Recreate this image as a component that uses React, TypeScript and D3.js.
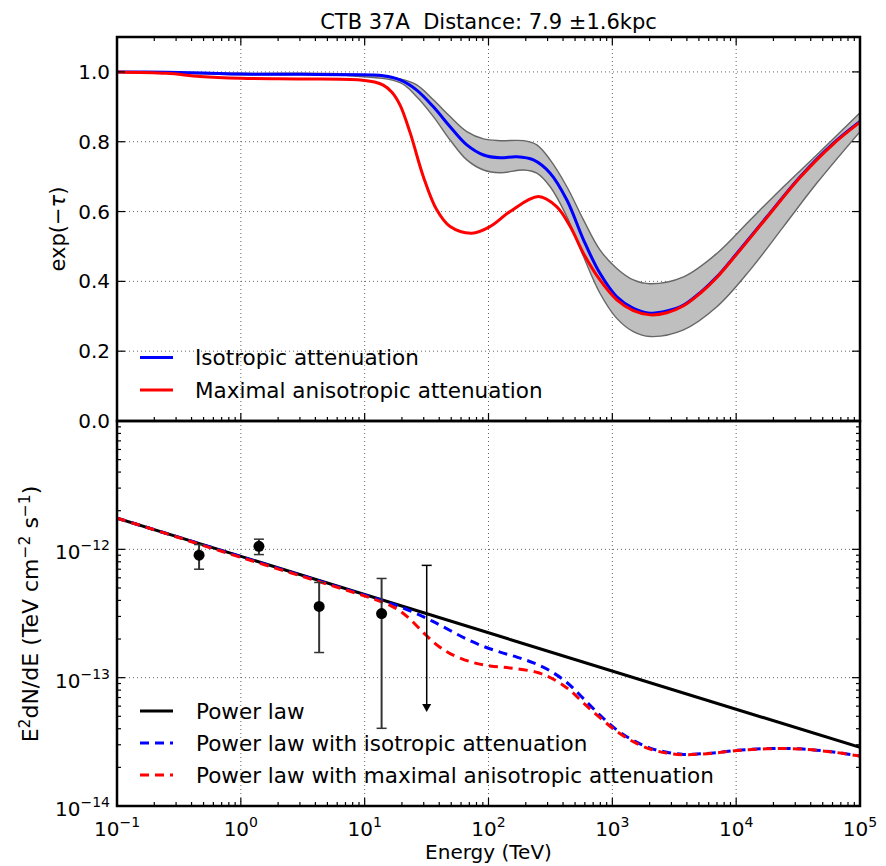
import React from "react";
import * as d3 from "d3";

const WIDTH = 886;
const HEIGHT = 866;
const TITLE = "CTB 37A  Distance: 7.9 \u00b11.6kpc";

// Isotropic attenuation exp(-tau) (blue)
const ISO_LOG_E = [-1.0, -0.6, -0.3, 0.0, 0.5, 0.88, 1.15, 1.286, 1.42, 1.555, 1.69, 1.825, 1.96, 2.094, 2.229, 2.363, 2.498, 2.633, 2.767, 2.9, 3.036, 3.17, 3.305, 3.44, 3.575, 3.71, 3.844, 4.005, 4.248, 4.517, 4.786, 5.0];
const ISO_ATT = [1.0, 0.999, 0.997, 0.994, 0.993, 0.992, 0.989, 0.977, 0.948, 0.9, 0.843, 0.791, 0.762, 0.754, 0.757, 0.748, 0.71, 0.633, 0.519, 0.423, 0.356, 0.323, 0.309, 0.315, 0.332, 0.368, 0.413, 0.48, 0.585, 0.7, 0.796, 0.858];

// Maximal anisotropic attenuation (red)
const ANI_LOG_E = [-1.0, -0.6, -0.33, 0.0, 0.5, 0.963, 1.08, 1.15, 1.22, 1.286, 1.367, 1.474, 1.582, 1.69, 1.865, 2.013, 2.174, 2.403, 2.55, 2.66, 2.767, 2.9, 3.036, 3.17, 3.305, 3.44, 3.575, 3.71, 3.844, 4.005, 4.248, 4.517, 4.786, 5.0];
const ANI_ATT = [1.0, 0.996, 0.987, 0.982, 0.98, 0.977, 0.971, 0.962, 0.942, 0.905, 0.826, 0.7, 0.605, 0.557, 0.538, 0.557, 0.6, 0.643, 0.614, 0.557, 0.48, 0.404, 0.347, 0.316, 0.304, 0.31, 0.33, 0.366, 0.411, 0.478, 0.583, 0.698, 0.794, 0.856];

// Uncertainty band (distance error)
const BAND_LOG_E = [-1.0, 0.0, 0.88, 1.286, 1.42, 1.555, 1.69, 1.825, 1.96, 2.094, 2.283, 2.39, 2.498, 2.633, 2.767, 2.9, 3.036, 3.17, 3.305, 3.575, 3.844, 4.113, 4.382, 4.65, 5.0];
const BAND_UPPER = [1.0, 0.996, 0.994, 0.98, 0.963, 0.92, 0.872, 0.829, 0.808, 0.803, 0.803, 0.791, 0.748, 0.671, 0.576, 0.49, 0.437, 0.404, 0.393, 0.413, 0.48, 0.576, 0.671, 0.762, 0.883];
const BAND_LOWER = [1.0, 0.992, 0.989, 0.969, 0.929, 0.872, 0.805, 0.748, 0.719, 0.711, 0.719, 0.71, 0.671, 0.585, 0.471, 0.366, 0.294, 0.256, 0.242, 0.261, 0.327, 0.433, 0.557, 0.681, 0.829];

// Power law endpoints (E^2 dN/dE)
const POWER_LAW_E = [0.1, 1e5];
const POWER_LAW_FLUX = [1.75e-12, 2.86e-14];

// Measured points
const POINT_E = [0.46, 1.4, 4.29, 13.7];
const POINT_FLUX = [9.0e-13, 1.055e-12, 3.59e-13, 3.16e-13];
const POINT_LO = [7.0e-13, 9.1e-13, 1.57e-13, 4.03e-14];
const POINT_HI = [1.09e-12, 1.2e-12, 5.52e-13, 5.93e-13];

// Upper limit
const UL_E = [31.7];
const UL_TOP = [7.5e-13];
const UL_TIP = [5.4e-14];

const X_TICK_EXP = [-1, 0, 1, 2, 3, 4, 5];
const TOP_Y_TICKS = [0, 0.2, 0.4, 0.6, 0.8, 1.0];
const BOTTOM_Y_TICK_EXP = [-14, -13, -12];

const TOP_LEGEND = ["Isotropic attenuation", "Maximal anisotropic attenuation"];
const BOTTOM_LEGEND = ["Power law", "Power law with isotropic attenuation", "Power law with maximal anisotropic attenuation"];

const FONT = "DejaVu Sans, sans-serif";

const L = 117, R = 860;
const TOP_T = 37, MID = 421, BOT_B = 806;

function supStr(e: number) {
  return e < 0 ? "\u2212" + Math.abs(e) : String(e);
}

export default function App() {
  const x = d3.scaleLog().domain([0.1, 1e5]).range([L, R]);
  const yTop = d3.scaleLinear().domain([0, 1.1]).range([MID, TOP_T]);
  const yBot = d3.scaleLog().domain([1e-14, 1e-11]).range([BOT_B, MID]);

  const slope = Math.log(POWER_LAW_FLUX[1] / POWER_LAW_FLUX[0]) / Math.log(POWER_LAW_E[1] / POWER_LAW_E[0]);
  const pl = (e: number) => POWER_LAW_FLUX[0] * Math.pow(e / POWER_LAW_E[0], slope);

  const curve = d3.curveCatmullRom.alpha(0.5);

  const lineTop = d3
    .line<[number, number]>()
    .x((d) => x(d[0]))
    .y((d) => yTop(d[1]))
    .curve(curve);
  const lineBot = d3
    .line<[number, number]>()
    .x((d) => x(d[0]))
    .y((d) => yBot(d[1]))
    .curve(curve);

  const isoPts: [number, number][] = ISO_LOG_E.map((l, i) => [Math.pow(10, l), ISO_ATT[i]]);
  const aniPts: [number, number][] = ANI_LOG_E.map((l, i) => [Math.pow(10, l), ANI_ATT[i]]);
  const upPts: [number, number][] = BAND_LOG_E.map((l, i) => [Math.pow(10, l), BAND_UPPER[i]]);
  const loPts: [number, number][] = BAND_LOG_E.map((l, i) => [Math.pow(10, l), BAND_LOWER[i]]);

  const area = d3
    .area<number>()
    .x((_, i) => x(Math.pow(10, BAND_LOG_E[i])))
    .y0((_, i) => yTop(BAND_LOWER[i]))
    .y1((_, i) => yTop(BAND_UPPER[i]))
    .curve(curve);

  const plPts: [number, number][] = POWER_LAW_E.map((e, i) => [e, POWER_LAW_FLUX[i]]);
  const isoFlux: [number, number][] = isoPts.map(([e, a]) => [e, pl(e) * a]);
  const aniFlux: [number, number][] = aniPts.map(([e, a]) => [e, pl(e) * a]);

  const majorX = X_TICK_EXP.map((e) => Math.pow(10, e));
  const minorX: number[] = [];
  for (let d = -1; d < 5; d++) for (let k = 2; k <= 9; k++) minorX.push(k * Math.pow(10, d));
  const minorY: number[] = [];
  for (let d = -14; d < -11; d++) for (let k = 2; k <= 9; k++) minorY.push(k * Math.pow(10, d));

  const gridStyle = { stroke: "#666", strokeWidth: 1, strokeDasharray: "1,3" };
  const tickW = 1.2;

  return (
    <div style={{ position: "absolute", left: 0, top: 0 }}>
      <svg width={WIDTH} height={HEIGHT} style={{ display: "block", background: "#fff" }} fontFamily={FONT}>
        <defs>
          <clipPath id="clipTop">
            <rect x={L} y={TOP_T} width={R - L} height={MID - TOP_T} />
          </clipPath>
          <clipPath id="clipBot">
            <rect x={L} y={MID} width={R - L} height={BOT_B - MID} />
          </clipPath>
        </defs>

        {/* Title */}
        <text x={(L + R) / 2} y={29} textAnchor="middle" fontSize={21} fill="#000" style={{ whiteSpace: "pre" }}>
          {TITLE}
        </text>

        {/* ---------- TOP PANEL ---------- */}
        <g>
          {majorX.slice(1, -1).map((v, i) => (
            <line key={"tgx" + i} x1={x(v)} x2={x(v)} y1={TOP_T} y2={MID} {...gridStyle} />
          ))}
          {TOP_Y_TICKS.slice(1).map((v, i) => (
            <line key={"tgy" + i} x1={L} x2={R} y1={yTop(v)} y2={yTop(v)} {...gridStyle} />
          ))}
          <g clipPath="url(#clipTop)">
            <path d={area(BAND_LOG_E) || ""} fill="#bfbfbf" stroke="none" />
            <path d={lineTop(upPts) || ""} fill="none" stroke="#666" strokeWidth={1.4} />
            <path d={lineTop(loPts) || ""} fill="none" stroke="#666" strokeWidth={1.4} />
            <path d={lineTop(isoPts) || ""} fill="none" stroke="#0000ff" strokeWidth={3} />
            <path d={lineTop(aniPts) || ""} fill="none" stroke="#ff0000" strokeWidth={3} />
          </g>
          {/* legend */}
          {TOP_LEGEND.map((t, i) => {
            const yy = 357.5 + i * 32.5;
            return (
              <g key={"tl" + i}>
                <line x1={140} x2={173} y1={yy} y2={yy} stroke={i === 0 ? "#0000ff" : "#ff0000"} strokeWidth={3} />
                <text x={195} y={yy + 7.7} fontSize={21.5} fill="#000">
                  {t}
                </text>
              </g>
            );
          })}
          {/* ticks */}
          {majorX.map((v, i) => (
            <g key={"tmx" + i}>
              <line x1={x(v)} x2={x(v)} y1={TOP_T} y2={TOP_T + 8} stroke="#000" strokeWidth={tickW} />
              <line x1={x(v)} x2={x(v)} y1={MID} y2={MID - 8} stroke="#000" strokeWidth={tickW} />
            </g>
          ))}
          {minorX.map((v, i) => (
            <g key={"tnx" + i}>
              <line x1={x(v)} x2={x(v)} y1={TOP_T} y2={TOP_T + 4} stroke="#000" strokeWidth={tickW} />
              <line x1={x(v)} x2={x(v)} y1={MID} y2={MID - 4} stroke="#000" strokeWidth={tickW} />
            </g>
          ))}
          {TOP_Y_TICKS.map((v, i) => (
            <g key={"tty" + i}>
              <line x1={L} x2={L + 8} y1={yTop(v)} y2={yTop(v)} stroke="#000" strokeWidth={tickW} />
              <line x1={R} x2={R - 8} y1={yTop(v)} y2={yTop(v)} stroke="#000" strokeWidth={tickW} />
              <text x={110} y={yTop(v) + 7} textAnchor="end" fontSize={20} fill="#000">
                {v.toFixed(1)}
              </text>
            </g>
          ))}
          <rect x={L} y={TOP_T} width={R - L} height={MID - TOP_T} fill="none" stroke="#000" strokeWidth={2.5} />
          <text transform={`translate(65,229) rotate(-90)`} textAnchor="middle" fontSize={21} fill="#000">
            {"exp(\u2212"}
            <tspan fontStyle="italic">{"\u03c4"}</tspan>
            {")"}
          </text>
        </g>

        {/* ---------- BOTTOM PANEL ---------- */}
        <g>
          {majorX.slice(1, -1).map((v, i) => (
            <line key={"bgx" + i} x1={x(v)} x2={x(v)} y1={MID} y2={BOT_B} {...gridStyle} />
          ))}
          {BOTTOM_Y_TICK_EXP.slice(1).map((e, i) => (
            <line key={"bgy" + i} x1={L} x2={R} y1={yBot(Math.pow(10, e))} y2={yBot(Math.pow(10, e))} {...gridStyle} />
          ))}
          <g clipPath="url(#clipBot)">
            <path d={lineBot(plPts) || ""} fill="none" stroke="#000" strokeWidth={3} />
            <path d={lineBot(isoFlux) || ""} fill="none" stroke="#0000ff" strokeWidth={3} strokeDasharray="9,6" />
            <path d={lineBot(aniFlux) || ""} fill="none" stroke="#ff0000" strokeWidth={3} strokeDasharray="9,6" />
            {/* data points */}
            {POINT_E.map((e, i) => (
              <g key={"pt" + i}>
                <line x1={x(e)} x2={x(e)} y1={yBot(POINT_LO[i])} y2={yBot(POINT_HI[i])} stroke="#333" strokeWidth={2} />
                <line x1={x(e) - 5} x2={x(e) + 5} y1={yBot(POINT_LO[i])} y2={yBot(POINT_LO[i])} stroke="#333" strokeWidth={1.5} />
                <line x1={x(e) - 5} x2={x(e) + 5} y1={yBot(POINT_HI[i])} y2={yBot(POINT_HI[i])} stroke="#333" strokeWidth={1.5} />
                <circle cx={x(e)} cy={yBot(POINT_FLUX[i])} r={5.5} fill="#000" />
              </g>
            ))}
            {UL_E.map((e, i) => {
              const xx = x(e);
              const yt = yBot(UL_TOP[i]);
              const yb = yBot(UL_TIP[i]);
              return (
                <g key={"ul" + i}>
                  <line x1={xx} x2={xx} y1={yt} y2={yb - 6} stroke="#000" strokeWidth={1.5} />
                  <line x1={xx - 5} x2={xx + 5} y1={yt} y2={yt} stroke="#000" strokeWidth={1.5} />
                  <path d={`M${xx - 4.5},${yb - 8}L${xx + 4.5},${yb - 8}L${xx},${yb}Z`} fill="#000" />
                </g>
              );
            })}
          </g>
          {/* legend */}
          {BOTTOM_LEGEND.map((t, i) => {
            const yy = 711 + i * 32;
            const col = i === 0 ? "#000" : i === 1 ? "#0000ff" : "#ff0000";
            return (
              <g key={"bl" + i}>
                <line x1={140} x2={173} y1={yy} y2={yy} stroke={col} strokeWidth={3} strokeDasharray={i === 0 ? undefined : "9,6"} />
                <text x={196} y={yy + 7.7} fontSize={21.5} fill="#000">
                  {t}
                </text>
              </g>
            );
          })}
          {/* ticks */}
          {majorX.map((v, i) => (
            <g key={"bmx" + i}>
              <line x1={x(v)} x2={x(v)} y1={BOT_B} y2={BOT_B - 8} stroke="#000" strokeWidth={tickW} />
              <text x={x(v)} y={836} textAnchor="middle" fontSize={20} fill="#000">
                10<tspan dy={-9} fontSize={14}>{supStr(X_TICK_EXP[i])}</tspan>
              </text>
            </g>
          ))}
          {minorX.map((v, i) => (
            <line key={"bnx" + i} x1={x(v)} x2={x(v)} y1={BOT_B} y2={BOT_B - 4} stroke="#000" strokeWidth={tickW} />
          ))}
          {BOTTOM_Y_TICK_EXP.map((e, i) => {
            const yy = yBot(Math.pow(10, e));
            return (
              <g key={"bty" + i}>
                <line x1={L} x2={L + 8} y1={yy} y2={yy} stroke="#000" strokeWidth={tickW} />
                <line x1={R} x2={R - 8} y1={yy} y2={yy} stroke="#000" strokeWidth={tickW} />
                <text x={110} y={yy + 10} textAnchor="end" fontSize={20} fill="#000">
                  10<tspan dy={-9} fontSize={14}>{supStr(e)}</tspan>
                </text>
              </g>
            );
          })}
          {minorY.map((v, i) => (
            <g key={"bny" + i}>
              <line x1={L} x2={L + 4} y1={yBot(v)} y2={yBot(v)} stroke="#000" strokeWidth={tickW} />
              <line x1={R} x2={R - 4} y1={yBot(v)} y2={yBot(v)} stroke="#000" strokeWidth={tickW} />
            </g>
          ))}
          <rect x={L} y={MID} width={R - L} height={BOT_B - MID} fill="none" stroke="#000" strokeWidth={2.5} />
          <text transform={`translate(38,614) rotate(-90)`} textAnchor="middle" fontSize={22} fill="#000">
            E<tspan dy={-8} fontSize={15.5}>2</tspan>
            <tspan dy={8}>dN/dE (TeV cm</tspan>
            <tspan dy={-8} fontSize={15.5}>{"\u22122"}</tspan>
            <tspan dy={8}>{" s"}</tspan>
            <tspan dy={-8} fontSize={15.5}>{"\u22121"}</tspan>
            <tspan dy={8}>)</tspan>
          </text>
          <text x={(L + R) / 2} y={859} textAnchor="middle" fontSize={20} fill="#000">
            Energy (TeV)
          </text>
        </g>
      </svg>
    </div>
  );
}
